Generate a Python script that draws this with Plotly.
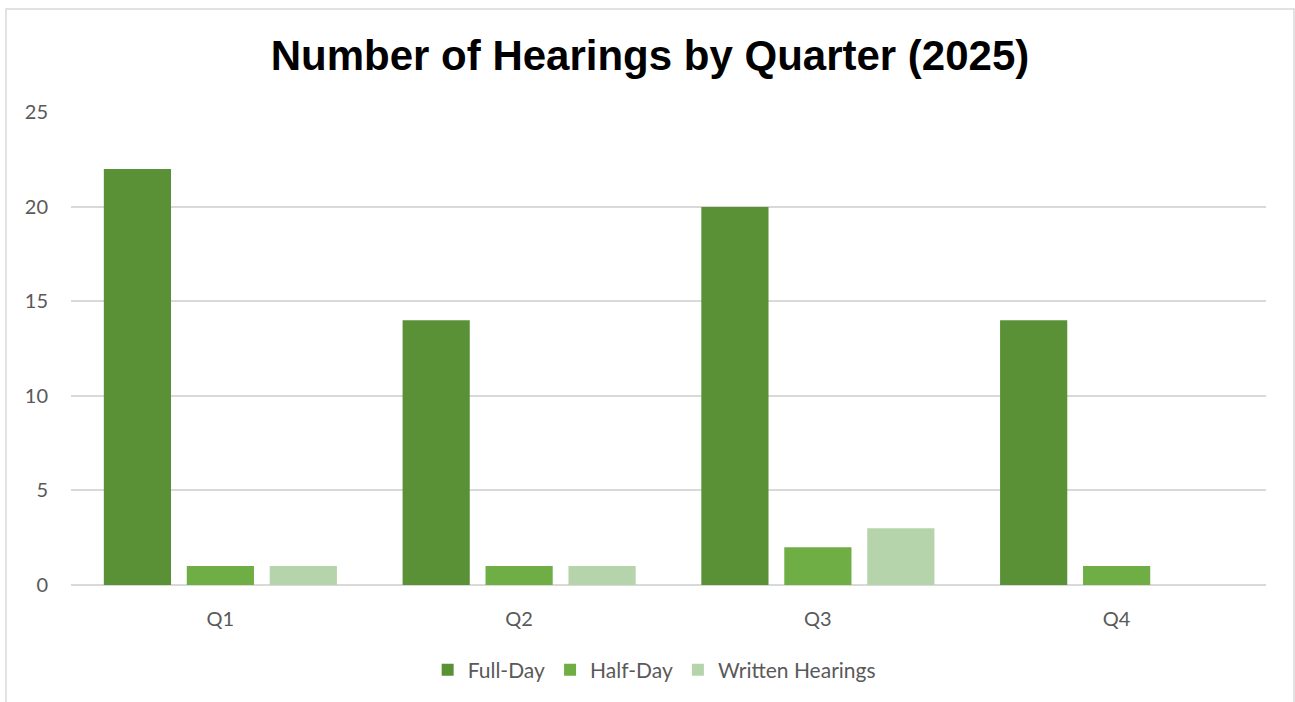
import plotly.graph_objects as go

quarters = ["Q1", "Q2", "Q3", "Q4"]
full_day = [22, 14, 20, 14]
half_day = [1, 1, 2, 1]
written = [1, 1, 3, 0]
y_ticks = [0, 5, 10, 15, 20, 25]

W, H = 1295, 702
L, R, T, B = 71, 29, 112, 117
pw, ph = W - L - R, H - T - B

fig = go.Figure()
series = [
    ("Full-Day", full_day, "#5a9137"),
    ("Half-Day", half_day, "#6fae45"),
    ("Written Hearings", written, "#b6d4ab"),
]
for name, vals, col in series:
    fig.add_trace(go.Bar(x=quarters, y=vals, name=name, marker=dict(color=col, line=dict(width=0))))

def px_x(px):
    return (px - L) / pw

def px_y(py):
    return (H - B - py) / ph

fig.update_layout(
    width=W, height=H,
    margin=dict(l=L, r=R, t=T, b=B),
    paper_bgcolor="white", plot_bgcolor="white",
    barmode="group", bargap=0.167, bargroupgap=0.19,
    title=dict(text="<b>Number of Hearings by Quarter (2025)</b>", x=650 / W, xanchor="center",
               y=1 - 55 / H, yanchor="middle", yref="container",
               font=dict(family="Liberation Sans, Arial", size=42, color="black")),
    font=dict(family="Lato, Noto Sans, sans-serif", size=21, color="#595959"),
    legend=dict(orientation="h", x=0.488, xanchor="center", y=px_y(670), yanchor="middle",
                font=dict(size=21, color="#595959"), itemwidth=30, traceorder="normal"),
    xaxis=dict(showgrid=False, showline=False, ticks="", ticklabelstandoff=20,
               tickfont=dict(size=20, color="#595959")),
    yaxis=dict(range=[0, 25.02], tickvals=y_ticks, showgrid=True, gridcolor="#d9d9d9", gridwidth=1.5,
               zeroline=True, zerolinecolor="#d9d9d9", zerolinewidth=1.5, showline=False,
               ticklabelstandoff=22, tickfont=dict(size=20, color="#595959")),
    shapes=[dict(type="rect", xref="paper", yref="paper",
                 x0=px_x(6), x1=px_x(1294), y0=px_y(720), y1=px_y(9),
                 line=dict(color="#d9d9d9", width=1.5), fillcolor="rgba(0,0,0,0)", layer="below")],
)

fig.write_html("out.html", config={"displayModeBar": False},
               post_script="document.body.style.margin='0';")
